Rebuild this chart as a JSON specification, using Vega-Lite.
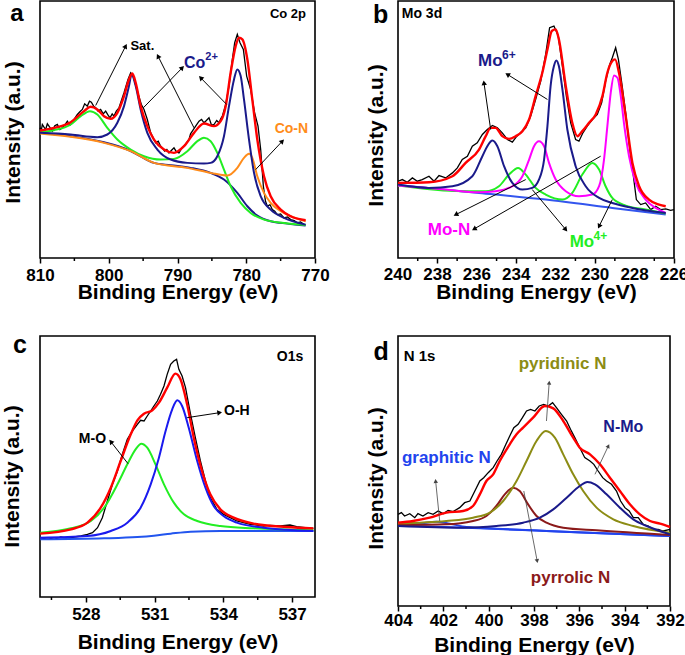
{
"$schema":"https://vega.github.io/schema/vega-lite/v6.json",
"padding":{"left":0,"top":0,"right":2,"bottom":0},
"config":{"font":"Liberation Sans","view":{"stroke":"black","strokeWidth":1.6},
"axisX":{"grid":false,"domain":false,"tickColor":"black","tickWidth":1.5,"tickSize":5,"labelFontSize":17,"labelFontWeight":"bold","labelColor":"black","labelPadding":4,"titleFontSize":21,"titleFontWeight":"bold","titleColor":"black","titlePadding":1,"labelFlush":false,"labelOverlap":false,"labelBound":false},
"axisY":{"grid":false,"domain":false,"ticks":false,"labels":false,"titleFontSize":21,"titleFontWeight":"bold","titleColor":"black"}},
"datasets":{
"A":[
{"s":"e","x":810.00,"y":390},{"s":"e","x":809.83,"y":380},{"s":"e","x":809.66,"y":400},{"s":"e","x":809.42,"y":392},{"s":"e","x":809.18,"y":385},{"s":"e","x":808.93,"y":402},{"s":"e","x":808.69,"y":395},{"s":"e","x":808.45,"y":388},{"s":"e","x":808.21,"y":380},{"s":"e","x":807.85,"y":396},{"s":"e","x":807.48,"y":400},{"s":"e","x":807.10,"y":385},{"s":"e","x":806.75,"y":390},{"s":"e","x":806.40,"y":398},{"s":"e","x":806.02,"y":410},{"s":"e","x":805.66,"y":398},{"s":"e","x":805.30,"y":405},{"s":"e","x":804.90,"y":420},{"s":"e","x":804.57,"y":430},{"s":"e","x":804.20,"y":438},{"s":"e","x":803.84,"y":445},{"s":"e","x":803.50,"y":462},{"s":"e","x":803.12,"y":455},{"s":"e","x":802.80,"y":470},{"s":"e","x":802.53,"y":467},{"s":"e","x":802.20,"y":455},{"s":"e","x":801.90,"y":450},{"s":"e","x":801.55,"y":440},{"s":"e","x":801.18,"y":445},{"s":"e","x":800.80,"y":432},{"s":"e","x":800.45,"y":440},{"s":"e","x":800.10,"y":428},{"s":"e","x":799.82,"y":420},{"s":"e","x":799.50,"y":432},{"s":"e","x":799.24,"y":425},{"s":"e","x":798.90,"y":440},{"s":"e","x":798.51,"y":450},{"s":"e","x":797.78,"y":495},{"s":"e","x":797.20,"y":535},{"s":"e","x":796.81,"y":555},{"s":"e","x":796.42,"y":543},{"s":"e","x":795.84,"y":500},{"s":"e","x":795.26,"y":460},{"s":"e","x":794.87,"y":445},{"s":"e","x":794.39,"y":415},{"s":"e","x":793.90,"y":375},{"s":"e","x":793.55,"y":360},{"s":"e","x":793.18,"y":345},{"s":"e","x":792.80,"y":350},{"s":"e","x":792.45,"y":335},{"s":"e","x":792.15,"y":328},{"s":"e","x":791.87,"y":320},{"s":"e","x":791.55,"y":325},{"s":"e","x":791.24,"y":315},{"s":"e","x":790.90,"y":322},{"s":"e","x":790.51,"y":330},{"s":"e","x":790.15,"y":318},{"s":"e","x":789.78,"y":315},{"s":"e","x":789.40,"y":328},{"s":"e","x":789.05,"y":335},{"s":"e","x":788.70,"y":345},{"s":"e","x":788.33,"y":355},{"s":"e","x":788.10,"y":372},{"s":"e","x":787.84,"y":380},{"s":"e","x":787.36,"y":395},{"s":"e","x":786.87,"y":410},{"s":"e","x":786.50,"y":415},{"s":"e","x":786.15,"y":405},{"s":"e","x":785.80,"y":412},{"s":"e","x":785.42,"y":420},{"s":"e","x":785.05,"y":398},{"s":"e","x":784.69,"y":400},{"s":"e","x":784.30,"y":412},{"s":"e","x":783.96,"y":405},{"s":"e","x":783.70,"y":418},{"s":"e","x":783.48,"y":425},{"s":"e","x":782.99,"y":460},{"s":"e","x":782.51,"y":515},{"s":"e","x":782.02,"y":595},{"s":"e","x":781.68,"y":645},{"s":"e","x":781.30,"y":670},{"s":"e","x":780.91,"y":645},{"s":"e","x":780.42,"y":625},{"s":"e","x":779.94,"y":545},{"s":"e","x":779.36,"y":505},{"s":"e","x":778.78,"y":435},{"s":"e","x":778.29,"y":395},{"s":"e","x":777.90,"y":325},{"s":"e","x":777.51,"y":215},{"s":"e","x":777.20,"y":170},{"s":"e","x":776.93,"y":155},{"s":"e","x":776.55,"y":160},{"s":"e","x":776.21,"y":145},{"s":"e","x":775.85,"y":140},{"s":"e","x":775.48,"y":130},{"s":"e","x":775.00,"y":132},{"s":"e","x":774.51,"y":120},{"s":"e","x":774.00,"y":123},{"s":"e","x":773.54,"y":115},{"s":"e","x":773.00,"y":112},{"s":"e","x":772.57,"y":105},{"s":"e","x":772.10,"y":108},{"s":"e","x":771.60,"y":100},
{"s":"r","x":810.00,"y":382},{"s":"r","x":807.96,"y":390},{"s":"r","x":805.54,"y":407},{"s":"r","x":803.60,"y":440},{"s":"r","x":802.63,"y":453},{"s":"r","x":801.66,"y":445},{"s":"r","x":800.69,"y":425},{"s":"r","x":799.72,"y":417},{"s":"r","x":798.75,"y":435},{"s":"r","x":797.78,"y":485},{"s":"r","x":797.06,"y":535},{"s":"r","x":796.57,"y":553},{"s":"r","x":796.08,"y":525},{"s":"r","x":795.36,"y":455},{"s":"r","x":794.39,"y":395},{"s":"r","x":793.42,"y":355},{"s":"r","x":791.96,"y":325},{"s":"r","x":790.51,"y":315},{"s":"r","x":789.05,"y":335},{"s":"r","x":787.60,"y":375},{"s":"r","x":786.15,"y":403},{"s":"r","x":784.69,"y":395},{"s":"r","x":783.72,"y":410},{"s":"r","x":782.99,"y":455},{"s":"r","x":782.27,"y":555},{"s":"r","x":781.54,"y":635},{"s":"r","x":781.05,"y":660},{"s":"r","x":780.57,"y":655},{"s":"r","x":779.84,"y":595},{"s":"r","x":779.12,"y":475},{"s":"r","x":778.39,"y":355},{"s":"r","x":777.42,"y":245},{"s":"r","x":776.45,"y":185},{"s":"r","x":774.99,"y":145},{"s":"r","x":773.54,"y":125},{"s":"r","x":771.36,"y":113},
{"s":"g","x":810.00,"y":377},{"s":"g","x":807.96,"y":383},{"s":"g","x":805.54,"y":400},{"s":"g","x":804.08,"y":425},{"s":"g","x":802.73,"y":440},{"s":"g","x":801.66,"y":430},{"s":"g","x":800.21,"y":390},{"s":"g","x":798.75,"y":355},{"s":"g","x":796.81,"y":325},{"s":"g","x":794.87,"y":305},{"s":"g","x":792.45,"y":295},{"s":"g","x":790.51,"y":297},{"s":"g","x":788.57,"y":320},{"s":"g","x":787.11,"y":350},{"s":"g","x":786.15,"y":360},{"s":"g","x":785.18,"y":350},{"s":"g","x":784.21,"y":315},{"s":"g","x":783.24,"y":265},{"s":"g","x":782.27,"y":215},{"s":"g","x":780.81,"y":165},{"s":"g","x":779.36,"y":135},{"s":"g","x":777.42,"y":115},{"s":"g","x":774.51,"y":105},{"s":"g","x":771.36,"y":99},
{"s":"n","x":810.00,"y":375},{"s":"n","x":805.54,"y":370},{"s":"n","x":801.66,"y":362},{"s":"n","x":800.21,"y":370},{"s":"n","x":798.75,"y":405},{"s":"n","x":797.78,"y":455},{"s":"n","x":797.06,"y":515},{"s":"n","x":796.67,"y":550},{"s":"n","x":796.08,"y":515},{"s":"n","x":795.36,"y":445},{"s":"n","x":794.39,"y":375},{"s":"n","x":792.93,"y":325},{"s":"n","x":790.99,"y":295},{"s":"n","x":788.57,"y":285},{"s":"n","x":786.15,"y":283},{"s":"n","x":785.18,"y":285},{"s":"n","x":784.21,"y":305},{"s":"n","x":783.24,"y":365},{"s":"n","x":782.51,"y":455},{"s":"n","x":781.78,"y":535},{"s":"n","x":781.30,"y":565},{"s":"n","x":780.81,"y":545},{"s":"n","x":780.33,"y":475},{"s":"n","x":779.60,"y":355},{"s":"n","x":778.87,"y":255},{"s":"n","x":777.90,"y":185},{"s":"n","x":776.45,"y":145},{"s":"n","x":774.51,"y":120},{"s":"n","x":771.36,"y":100},
{"s":"o","x":810.00,"y":373},{"s":"o","x":805.54,"y":363},{"s":"o","x":800.69,"y":345},{"s":"o","x":796.81,"y":320},{"s":"o","x":793.42,"y":285},{"s":"o","x":788.57,"y":270},{"s":"o","x":785.18,"y":255},{"s":"o","x":782.75,"y":247},{"s":"o","x":781.30,"y":270},{"s":"o","x":780.33,"y":300},{"s":"o","x":779.60,"y":312},{"s":"o","x":779.12,"y":300},{"s":"o","x":778.39,"y":245},{"s":"o","x":777.42,"y":195},{"s":"o","x":776.45,"y":165},{"s":"o","x":774.51,"y":135},{"s":"o","x":771.36,"y":110},
{"s":"b","x":810.00,"y":375},{"s":"b","x":805.54,"y":365},{"s":"b","x":800.69,"y":347},{"s":"b","x":797.30,"y":325},{"s":"b","x":795.84,"y":310},{"s":"b","x":793.42,"y":285},{"s":"b","x":790.99,"y":278},{"s":"b","x":788.08,"y":270},{"s":"b","x":785.18,"y":255},{"s":"b","x":783.24,"y":235},{"s":"b","x":781.30,"y":195},{"s":"b","x":779.84,"y":155},{"s":"b","x":778.39,"y":127},{"s":"b","x":776.45,"y":110},{"s":"b","x":774.02,"y":103},{"s":"b","x":771.36,"y":97}
],
"B":[
{"s":"e","x":240.00,"y":230},{"s":"e","x":239.78,"y":235},{"s":"e","x":239.53,"y":227},{"s":"e","x":239.27,"y":240},{"s":"e","x":239.02,"y":230},{"s":"e","x":238.77,"y":235},{"s":"e","x":238.43,"y":245},{"s":"e","x":238.17,"y":230},{"s":"e","x":237.92,"y":247},{"s":"e","x":237.58,"y":240},{"s":"e","x":237.24,"y":255},{"s":"e","x":236.99,"y":270},{"s":"e","x":236.74,"y":295},{"s":"e","x":236.48,"y":305},{"s":"e","x":236.23,"y":335},{"s":"e","x":235.98,"y":345},{"s":"e","x":235.72,"y":370},{"s":"e","x":235.47,"y":385},{"s":"e","x":235.21,"y":397},{"s":"e","x":234.96,"y":390},{"s":"e","x":234.71,"y":375},{"s":"e","x":234.45,"y":355},{"s":"e","x":234.20,"y":347},{"s":"e","x":234.00,"y":363},{"s":"e","x":233.78,"y":375},{"s":"e","x":233.52,"y":390},{"s":"e","x":233.27,"y":425},{"s":"e","x":233.02,"y":475},{"s":"e","x":232.76,"y":530},{"s":"e","x":232.51,"y":610},{"s":"e","x":232.31,"y":690},{"s":"e","x":232.09,"y":695},{"s":"e","x":231.87,"y":665},{"s":"e","x":231.66,"y":575},{"s":"e","x":231.46,"y":485},{"s":"e","x":231.24,"y":405},{"s":"e","x":230.99,"y":355},{"s":"e","x":230.82,"y":350},{"s":"e","x":230.62,"y":375},{"s":"e","x":230.40,"y":395},{"s":"e","x":230.14,"y":415},{"s":"e","x":229.89,"y":430},{"s":"e","x":229.67,"y":465},{"s":"e","x":229.47,"y":530},{"s":"e","x":229.26,"y":580},{"s":"e","x":229.13,"y":600},{"s":"e","x":228.96,"y":630},{"s":"e","x":228.82,"y":595},{"s":"e","x":228.65,"y":525},{"s":"e","x":228.45,"y":435},{"s":"e","x":228.28,"y":345},{"s":"e","x":228.08,"y":255},{"s":"e","x":227.91,"y":175},{"s":"e","x":227.69,"y":160},{"s":"e","x":227.44,"y":165},{"s":"e","x":227.18,"y":145},{"s":"e","x":226.93,"y":155},{"s":"e","x":226.68,"y":145},{"s":"e","x":226.42,"y":147},{"s":"e","x":226.17,"y":143},{"s":"e","x":226.00,"y":145},
{"s":"r","x":240.00,"y":225},{"s":"r","x":238.43,"y":227},{"s":"r","x":237.24,"y":245},{"s":"r","x":236.57,"y":285},{"s":"r","x":235.89,"y":325},{"s":"r","x":235.55,"y":365},{"s":"r","x":235.30,"y":390},{"s":"r","x":235.05,"y":390},{"s":"r","x":234.71,"y":365},{"s":"r","x":234.37,"y":357},{"s":"r","x":234.03,"y":365},{"s":"r","x":233.69,"y":380},{"s":"r","x":233.35,"y":415},{"s":"r","x":233.02,"y":485},{"s":"r","x":232.68,"y":555},{"s":"r","x":232.42,"y":625},{"s":"r","x":232.20,"y":680},{"s":"r","x":232.00,"y":685},{"s":"r","x":231.84,"y":655},{"s":"r","x":231.49,"y":515},{"s":"r","x":231.16,"y":405},{"s":"r","x":230.90,"y":365},{"s":"r","x":230.65,"y":380},{"s":"r","x":230.31,"y":405},{"s":"r","x":229.97,"y":430},{"s":"r","x":229.63,"y":485},{"s":"r","x":229.38,"y":555},{"s":"r","x":229.13,"y":590},{"s":"r","x":228.99,"y":595},{"s":"r","x":228.79,"y":555},{"s":"r","x":228.45,"y":425},{"s":"r","x":228.11,"y":285},{"s":"r","x":227.77,"y":215},{"s":"r","x":227.27,"y":175},{"s":"r","x":226.76,"y":160},{"s":"r","x":226.42,"y":155},
{"s":"n","x":240.00,"y":220},{"s":"n","x":238.43,"y":210},{"s":"n","x":237.24,"y":215},{"s":"n","x":236.23,"y":245},{"s":"n","x":235.72,"y":305},{"s":"n","x":235.47,"y":335},{"s":"n","x":235.21,"y":352},{"s":"n","x":234.96,"y":335},{"s":"n","x":234.62,"y":275},{"s":"n","x":234.20,"y":225},{"s":"n","x":233.69,"y":205},{"s":"n","x":233.19,"y":210},{"s":"n","x":232.85,"y":235},{"s":"n","x":232.59,"y":295},{"s":"n","x":232.42,"y":395},{"s":"n","x":232.26,"y":515},{"s":"n","x":232.09,"y":575},{"s":"n","x":231.97,"y":592},{"s":"n","x":231.84,"y":575},{"s":"n","x":231.66,"y":505},{"s":"n","x":231.41,"y":385},{"s":"n","x":230.99,"y":275},{"s":"n","x":230.48,"y":215},{"s":"n","x":229.80,"y":180},{"s":"n","x":229.13,"y":165},{"s":"n","x":228.11,"y":150},{"s":"n","x":226.42,"y":135},
{"s":"m","x":240.00,"y":217},{"s":"m","x":237.58,"y":205},{"s":"m","x":235.89,"y":197},{"s":"m","x":235.05,"y":200},{"s":"m","x":234.20,"y":215},{"s":"m","x":233.69,"y":245},{"s":"m","x":233.35,"y":295},{"s":"m","x":233.10,"y":335},{"s":"m","x":232.85,"y":350},{"s":"m","x":232.59,"y":335},{"s":"m","x":232.34,"y":285},{"s":"m","x":232.00,"y":235},{"s":"m","x":231.49,"y":200},{"s":"m","x":230.82,"y":185},{"s":"m","x":230.14,"y":190},{"s":"m","x":229.80,"y":215},{"s":"m","x":229.55,"y":295},{"s":"m","x":229.38,"y":395},{"s":"m","x":229.21,"y":495},{"s":"m","x":229.04,"y":547},{"s":"m","x":228.87,"y":540},{"s":"m","x":228.70,"y":485},{"s":"m","x":228.54,"y":405},{"s":"m","x":228.28,"y":305},{"s":"m","x":227.94,"y":225},{"s":"m","x":227.44,"y":175},{"s":"m","x":226.93,"y":150},{"s":"m","x":226.42,"y":135},
{"s":"g","x":240.00,"y":217},{"s":"g","x":236.74,"y":200},{"s":"g","x":235.55,"y":200},{"s":"g","x":234.88,"y":215},{"s":"g","x":234.37,"y":250},{"s":"g","x":233.91,"y":270},{"s":"g","x":233.52,"y":250},{"s":"g","x":233.02,"y":210},{"s":"g","x":232.51,"y":190},{"s":"g","x":231.66,"y":175},{"s":"g","x":231.16,"y":195},{"s":"g","x":230.65,"y":250},{"s":"g","x":230.14,"y":285},{"s":"g","x":229.80,"y":265},{"s":"g","x":229.47,"y":215},{"s":"g","x":229.13,"y":180},{"s":"g","x":228.45,"y":157},{"s":"g","x":227.44,"y":145},{"s":"g","x":226.42,"y":133},
{"s":"b","x":240.00,"y":218},{"s":"b","x":235.89,"y":195},{"s":"b","x":232.51,"y":175},{"s":"b","x":229.13,"y":150},{"s":"b","x":226.42,"y":130}
],
"C":[
{"s":"e","x":526.01,"y":173},{"s":"e","x":526.33,"y":178},{"s":"e","x":526.62,"y":173},{"s":"e","x":526.91,"y":180},{"s":"e","x":527.20,"y":176},{"s":"e","x":527.49,"y":180},{"s":"e","x":527.78,"y":183},{"s":"e","x":528.07,"y":188},{"s":"e","x":528.29,"y":193},{"s":"e","x":528.51,"y":208},{"s":"e","x":528.72,"y":238},{"s":"e","x":528.94,"y":288},{"s":"e","x":529.16,"y":338},{"s":"e","x":529.38,"y":378},{"s":"e","x":529.59,"y":428},{"s":"e","x":529.81,"y":473},{"s":"e","x":530.03,"y":498},{"s":"e","x":530.25,"y":518},{"s":"e","x":530.39,"y":530},{"s":"e","x":530.54,"y":528},{"s":"e","x":530.68,"y":543},{"s":"e","x":530.83,"y":558},{"s":"e","x":530.97,"y":573},{"s":"e","x":531.12,"y":588},{"s":"e","x":531.26,"y":608},{"s":"e","x":531.41,"y":633},{"s":"e","x":531.55,"y":668},{"s":"e","x":531.70,"y":698},{"s":"e","x":531.84,"y":708},{"s":"e","x":531.96,"y":713},{"s":"e","x":532.06,"y":683},{"s":"e","x":532.20,"y":663},{"s":"e","x":532.35,"y":628},{"s":"e","x":532.57,"y":548},{"s":"e","x":532.78,"y":478},{"s":"e","x":533.00,"y":408},{"s":"e","x":533.22,"y":348},{"s":"e","x":533.43,"y":298},{"s":"e","x":533.72,"y":263},{"s":"e","x":534.01,"y":248},{"s":"e","x":534.30,"y":238},{"s":"e","x":534.59,"y":228},{"s":"e","x":534.88,"y":223},{"s":"e","x":535.17,"y":218},{"s":"e","x":535.46,"y":216},{"s":"e","x":535.75,"y":213},{"s":"e","x":536.04,"y":215},{"s":"e","x":536.48,"y":213},{"s":"e","x":536.91,"y":216},{"s":"e","x":537.20,"y":211},{"s":"e","x":537.57,"y":208},{"s":"e","x":537.93,"y":206},
{"s":"r","x":526.01,"y":190},{"s":"r","x":527.35,"y":203},{"s":"r","x":528.07,"y":223},{"s":"r","x":528.65,"y":268},{"s":"r","x":529.09,"y":328},{"s":"r","x":529.52,"y":408},{"s":"r","x":529.96,"y":488},{"s":"r","x":530.25,"y":530},{"s":"r","x":530.54,"y":550},{"s":"r","x":530.90,"y":560},{"s":"r","x":531.19,"y":583},{"s":"r","x":531.55,"y":628},{"s":"r","x":531.91,"y":670},{"s":"r","x":532.13,"y":653},{"s":"r","x":532.42,"y":578},{"s":"r","x":532.71,"y":478},{"s":"r","x":533.07,"y":378},{"s":"r","x":533.43,"y":308},{"s":"r","x":533.87,"y":263},{"s":"r","x":534.45,"y":238},{"s":"r","x":535.32,"y":220},{"s":"r","x":536.77,"y":210},{"s":"r","x":537.93,"y":206},
{"s":"g","x":526.01,"y":193},{"s":"g","x":527.35,"y":206},{"s":"g","x":528.22,"y":228},{"s":"g","x":528.80,"y":268},{"s":"g","x":529.38,"y":338},{"s":"g","x":529.81,"y":398},{"s":"g","x":530.17,"y":443},{"s":"g","x":530.42,"y":460},{"s":"g","x":530.68,"y":448},{"s":"g","x":531.04,"y":398},{"s":"g","x":531.41,"y":338},{"s":"g","x":531.84,"y":283},{"s":"g","x":532.28,"y":248},{"s":"g","x":532.86,"y":228},{"s":"g","x":533.87,"y":213},{"s":"g","x":535.32,"y":206},{"s":"g","x":537.93,"y":200},
{"s":"u","x":526.01,"y":178},{"s":"u","x":528.07,"y":183},{"s":"u","x":529.09,"y":198},{"s":"u","x":529.81,"y":223},{"s":"u","x":530.39,"y":268},{"s":"u","x":530.83,"y":338},{"s":"u","x":531.19,"y":418},{"s":"u","x":531.48,"y":498},{"s":"u","x":531.77,"y":563},{"s":"u","x":531.99,"y":590},{"s":"u","x":532.20,"y":573},{"s":"u","x":532.49,"y":508},{"s":"u","x":532.86,"y":408},{"s":"u","x":533.22,"y":328},{"s":"u","x":533.58,"y":273},{"s":"u","x":534.01,"y":243},{"s":"u","x":534.59,"y":223},{"s":"u","x":535.75,"y":208},{"s":"u","x":537.93,"y":198},
{"s":"b","x":526.01,"y":173},{"s":"b","x":528.80,"y":176},{"s":"b","x":530.25,"y":180},{"s":"b","x":530.97,"y":184},{"s":"b","x":531.70,"y":190},{"s":"b","x":532.57,"y":196},{"s":"b","x":533.87,"y":198},{"s":"b","x":536.04,"y":198},{"s":"b","x":537.93,"y":198}
],
"D":[
{"s":"e","x":404.00,"y":275},{"s":"e","x":403.85,"y":280},{"s":"e","x":403.71,"y":270},{"s":"e","x":403.48,"y":277},{"s":"e","x":403.26,"y":265},{"s":"e","x":403.12,"y":277},{"s":"e","x":402.90,"y":270},{"s":"e","x":402.67,"y":280},{"s":"e","x":402.45,"y":275},{"s":"e","x":402.23,"y":285},{"s":"e","x":402.01,"y":277},{"s":"e","x":401.79,"y":287},{"s":"e","x":401.57,"y":283},{"s":"e","x":401.28,"y":295},{"s":"e","x":401.06,"y":310},{"s":"e","x":400.83,"y":315},{"s":"e","x":400.61,"y":345},{"s":"e","x":400.39,"y":375},{"s":"e","x":400.22,"y":385},{"s":"e","x":400.02,"y":400},{"s":"e","x":399.80,"y":415},{"s":"e","x":399.63,"y":435},{"s":"e","x":399.44,"y":455},{"s":"e","x":399.24,"y":485},{"s":"e","x":399.07,"y":510},{"s":"e","x":398.89,"y":535},{"s":"e","x":398.70,"y":545},{"s":"e","x":398.51,"y":565},{"s":"e","x":398.33,"y":585},{"s":"e","x":398.15,"y":590},{"s":"e","x":397.96,"y":585},{"s":"e","x":397.77,"y":600},{"s":"e","x":397.57,"y":605},{"s":"e","x":397.37,"y":600},{"s":"e","x":397.18,"y":610},{"s":"e","x":397.01,"y":595},{"s":"e","x":396.79,"y":575},{"s":"e","x":396.56,"y":555},{"s":"e","x":396.39,"y":530},{"s":"e","x":396.20,"y":505},{"s":"e","x":395.98,"y":475},{"s":"e","x":395.76,"y":445},{"s":"e","x":395.53,"y":435},{"s":"e","x":395.36,"y":425},{"s":"e","x":395.17,"y":405},{"s":"e","x":394.97,"y":385},{"s":"e","x":394.80,"y":375},{"s":"e","x":394.58,"y":365},{"s":"e","x":394.36,"y":345},{"s":"e","x":394.18,"y":315},{"s":"e","x":393.99,"y":295},{"s":"e","x":393.80,"y":285},{"s":"e","x":393.62,"y":265},{"s":"e","x":393.40,"y":265},{"s":"e","x":393.18,"y":245},{"s":"e","x":392.96,"y":240},{"s":"e","x":392.74,"y":230},{"s":"e","x":392.52,"y":230},{"s":"e","x":392.30,"y":225},{"s":"e","x":392.00,"y":230},
{"s":"r","x":404.00,"y":250},{"s":"r","x":403.34,"y":255},{"s":"r","x":402.60,"y":265},{"s":"r","x":401.87,"y":280},{"s":"r","x":401.13,"y":285},{"s":"r","x":400.69,"y":300},{"s":"r","x":400.39,"y":335},{"s":"r","x":400.10,"y":375},{"s":"r","x":399.80,"y":395},{"s":"r","x":399.51,"y":435},{"s":"r","x":399.07,"y":485},{"s":"r","x":398.77,"y":515},{"s":"r","x":398.48,"y":535},{"s":"r","x":398.04,"y":565},{"s":"r","x":397.52,"y":600},{"s":"r","x":397.15,"y":593},{"s":"r","x":396.71,"y":555},{"s":"r","x":396.27,"y":505},{"s":"r","x":395.98,"y":475},{"s":"r","x":395.53,"y":455},{"s":"r","x":395.09,"y":425},{"s":"r","x":394.65,"y":385},{"s":"r","x":394.21,"y":345},{"s":"r","x":393.77,"y":305},{"s":"r","x":393.33,"y":275},{"s":"r","x":392.88,"y":255},{"s":"r","x":392.44,"y":247},{"s":"r","x":392.00,"y":237},
{"s":"o","x":404.00,"y":248},{"s":"o","x":401.87,"y":255},{"s":"o","x":400.69,"y":265},{"s":"o","x":399.95,"y":280},{"s":"o","x":399.36,"y":315},{"s":"o","x":398.77,"y":375},{"s":"o","x":398.33,"y":435},{"s":"o","x":397.89,"y":495},{"s":"o","x":397.48,"y":525},{"s":"o","x":397.08,"y":505},{"s":"o","x":396.71,"y":455},{"s":"o","x":396.27,"y":395},{"s":"o","x":395.83,"y":345},{"s":"o","x":395.24,"y":295},{"s":"o","x":394.50,"y":260},{"s":"o","x":393.62,"y":240},{"s":"o","x":392.00,"y":220},
{"s":"k","x":404.00,"y":243},{"s":"k","x":401.87,"y":245},{"s":"k","x":400.69,"y":255},{"s":"k","x":400.10,"y":270},{"s":"k","x":399.66,"y":300},{"s":"k","x":399.29,"y":335},{"s":"k","x":398.92,"y":355},{"s":"k","x":398.63,"y":345},{"s":"k","x":398.26,"y":305},{"s":"k","x":397.89,"y":270},{"s":"k","x":397.45,"y":250},{"s":"k","x":396.71,"y":235},{"s":"k","x":395.24,"y":227},{"s":"k","x":392.00,"y":213},
{"s":"n","x":404.00,"y":240},{"s":"n","x":401.13,"y":235},{"s":"n","x":399.66,"y":240},{"s":"n","x":398.48,"y":250},{"s":"n","x":397.74,"y":265},{"s":"n","x":397.15,"y":290},{"s":"n","x":396.56,"y":325},{"s":"n","x":395.98,"y":360},{"s":"n","x":395.65,"y":372},{"s":"n","x":395.31,"y":365},{"s":"n","x":394.80,"y":335},{"s":"n","x":394.21,"y":295},{"s":"n","x":393.62,"y":260},{"s":"n","x":393.03,"y":240},{"s":"n","x":392.00,"y":215},
{"s":"u","x":404.00,"y":243},{"s":"u","x":403.04,"y":247},{"s":"u","x":402.31,"y":253},{"s":"u","x":401.72,"y":247},{"s":"u","x":400.98,"y":237},{"s":"u","x":399.66,"y":232},{"s":"u","x":397.45,"y":225},{"s":"u","x":392.00,"y":210},
{"s":"b","x":404.00,"y":242},{"s":"b","x":400.39,"y":233},{"s":"b","x":397.45,"y":225},{"s":"b","x":394.50,"y":217},{"s":"b","x":392.00,"y":210}
]},
"spacing":28,"bounds":"full",
"vconcat":[
{"hconcat":[
{"width":275,"height":257,"data":{"name":"A"},"layer":[
{"transform":[{"filter":"datum.s==='e'"}],"mark":{"type":"line","color":"#000000","strokeWidth":1.3},"encoding":{"x":{"field":"x","type":"quantitative","scale":{"domain":[770,810],"reverse":true,"nice":false,"zero":false},"axis":{"title":"Binding Energy (eV)","titlePadding":-2,"labelOverlap":false,"values":[770,780,790,800,810],"format":"d"}},"y":{"field":"y","type":"quantitative","scale":{"domain":[0,770],"nice":false,"zero":false},"axis":{"title":"Intensity (a.u.)","titlePadding":17,"titleY":131}}}},
{"data":{"values":[{"m":775},{"m":785},{"m":795},{"m":805}]},"mark":{"type":"rule","color":"#000000","strokeWidth":1.5,"clip":false},"encoding":{"x":{"field":"m","type":"quantitative"},"y":{"datum":0},"y2":{"datum":-9}}},
{"transform":[{"filter":"datum.s==='b'"}],"mark":{"type":"line","color":"#1a1a8a","strokeWidth":2,"interpolate":"monotone"},"encoding":{"x":{"field":"x","type":"quantitative"},"y":{"field":"y","type":"quantitative"}}},
{"transform":[{"filter":"datum.s==='g'"}],"mark":{"type":"line","color":"#22ee22","strokeWidth":2,"interpolate":"monotone"},"encoding":{"x":{"field":"x","type":"quantitative"},"y":{"field":"y","type":"quantitative"}}},
{"transform":[{"filter":"datum.s==='o'"}],"mark":{"type":"line","color":"#ff8c1a","strokeWidth":2,"interpolate":"monotone"},"encoding":{"x":{"field":"x","type":"quantitative"},"y":{"field":"y","type":"quantitative"}}},
{"transform":[{"filter":"datum.s==='n'"}],"mark":{"type":"line","color":"#1a1a8a","strokeWidth":2,"interpolate":"monotone"},"encoding":{"x":{"field":"x","type":"quantitative"},"y":{"field":"y","type":"quantitative"}}},
{"transform":[{"filter":"datum.s==='r'"}],"mark":{"type":"line","color":"#ff0000","strokeWidth":2.4,"interpolate":"monotone"},"encoding":{"x":{"field":"x","type":"quantitative"},"y":{"field":"y","type":"quantitative"}}},
{"data":{"values":[{"x1":801.90,"y1":457,"x2":797.54,"y2":635,"ang":26.8},{"x1":787.60,"y1":390,"x2":792.84,"y2":605,"ang":333.3},{"x1":794.97,"y1":450,"x2":789.30,"y2":570,"ang":44.3},{"x1":782.85,"y1":460,"x2":786.63,"y2":540,"ang":315.7},{"x1":778.63,"y1":265,"x2":774.75,"y2":350,"ang":43.3}]},"layer":[
{"mark":{"type":"rule","color":"#000000","strokeWidth":1},"encoding":{"x":{"field":"x1","type":"quantitative"},"y":{"field":"y1","type":"quantitative"},"x2":{"field":"x2"},"y2":{"field":"y2"}}},
{"mark":{"type":"point","shape":"triangle-up","filled":true,"color":"#000000","size":30,"opacity":1},"encoding":{"x":{"field":"x2","type":"quantitative"},"y":{"field":"y2","type":"quantitative"},"angle":{"field":"ang","type":"quantitative","scale":null}}}]},
{"data":{"values":[{"t":"Sat.","x":795.11,"y":635},{"t":"Co 2p","x":773.93,"y":730}]},"mark":{"type":"text","fontSize":13,"fontWeight":"bold","color":"#000000"},"encoding":{"x":{"field":"x","type":"quantitative"},"y":{"field":"y","type":"quantitative"},"text":{"field":"t"}}},
{"data":{"values":[{"t":"Co","x":787.50,"y":583}]},"mark":{"type":"text","fontSize":16,"fontWeight":"bold","color":"#1a1a8a"},"encoding":{"x":{"field":"x","type":"quantitative"},"y":{"field":"y","type":"quantitative"},"text":{"field":"t"}}},
{"data":{"values":[{"t":"2+","x":785.95,"y":603}]},"mark":{"type":"text","fontSize":11,"fontWeight":"bold","color":"#1a1a8a","align":"left"},"encoding":{"x":{"field":"x","type":"quantitative"},"y":{"field":"y","type":"quantitative"},"text":{"field":"t"}}},
{"data":{"values":[{"t":"Co-N","x":773.44,"y":387}]},"mark":{"type":"text","fontSize":14,"fontWeight":"bold","color":"#ff8c1a"},"encoding":{"x":{"field":"x","type":"quantitative"},"y":{"field":"y","type":"quantitative"},"text":{"field":"t"}}},
{"data":{"values":[{"t":"a","x":813.35,"y":732}]},"mark":{"type":"text","fontSize":24,"fontWeight":"bold","color":"#000000"},"encoding":{"x":{"field":"x","type":"quantitative"},"y":{"field":"y","type":"quantitative"},"text":{"field":"t"}}}
]},
{"width":276,"height":257,"data":{"name":"B"},"layer":[
{"transform":[{"filter":"datum.s==='e'"}],"mark":{"type":"line","color":"#000000","strokeWidth":1.3},"encoding":{"x":{"field":"x","type":"quantitative","scale":{"domain":[226,240],"reverse":true,"nice":false,"zero":false},"axis":{"title":"Binding Energy (eV)","titlePadding":18,"labels":false,"values":[226,228,230,232,234,236,238,240]}},"y":{"field":"y","type":"quantitative","scale":{"domain":[0,770],"nice":false,"zero":false},"axis":{"title":"Intensity (a.u.)","titlePadding":12,"titleY":134}}}},
{"data":{"values":[{"m":227},{"m":229},{"m":231},{"m":233},{"m":235},{"m":237},{"m":239}]},"mark":{"type":"rule","color":"#000000","strokeWidth":1.5,"clip":false},"encoding":{"x":{"field":"m","type":"quantitative"},"y":{"datum":0},"y2":{"datum":-9}}},
{"data":{"values":[{"t":"226","x":226},{"t":"228","x":228},{"t":"230","x":230},{"t":"232","x":232},{"t":"234","x":234},{"t":"236","x":236},{"t":"238","x":238},{"t":"240","x":240}]},"mark":{"type":"text","fontSize":17,"fontWeight":"bold","color":"#000000","baseline":"middle","clip":false},"encoding":{"x":{"field":"x","type":"quantitative"},"y":{"datum":-51},"text":{"field":"t"}}},
{"transform":[{"filter":"datum.s==='b'"}],"mark":{"type":"line","color":"#3355ee","strokeWidth":2,"interpolate":"monotone"},"encoding":{"x":{"field":"x","type":"quantitative"},"y":{"field":"y","type":"quantitative"}}},
{"transform":[{"filter":"datum.s==='g'"}],"mark":{"type":"line","color":"#22ee22","strokeWidth":2,"interpolate":"monotone"},"encoding":{"x":{"field":"x","type":"quantitative"},"y":{"field":"y","type":"quantitative"}}},
{"transform":[{"filter":"datum.s==='m'"}],"mark":{"type":"line","color":"#ff00ff","strokeWidth":2,"interpolate":"monotone"},"encoding":{"x":{"field":"x","type":"quantitative"},"y":{"field":"y","type":"quantitative"}}},
{"transform":[{"filter":"datum.s==='n'"}],"mark":{"type":"line","color":"#1a1a8a","strokeWidth":2,"interpolate":"monotone"},"encoding":{"x":{"field":"x","type":"quantitative"},"y":{"field":"y","type":"quantitative"}}},
{"transform":[{"filter":"datum.s==='r'"}],"mark":{"type":"line","color":"#ff0000","strokeWidth":2.4,"interpolate":"monotone"},"encoding":{"x":{"field":"x","type":"quantitative"},"y":{"field":"y","type":"quantitative"}}},
{"data":{"values":[{"x1":235.30,"y1":385,"x2":235.64,"y2":525,"ang":351.9},{"x1":232.42,"y1":475,"x2":234.45,"y2":550,"ang":302},{"x1":233.52,"y1":235,"x2":237.07,"y2":130,"ang":243.4},{"x1":229.72,"y1":305,"x2":236.14,"y2":87,"ang":240.2},{"x1":233.19,"y1":205,"x2":231.49,"y2":85,"ang":140.2},{"x1":229.13,"y1":175,"x2":229.80,"y2":95,"ang":206.6}]},"layer":[
{"mark":{"type":"rule","color":"#000000","strokeWidth":1},"encoding":{"x":{"field":"x1","type":"quantitative"},"y":{"field":"y1","type":"quantitative"},"x2":{"field":"x2"},"y2":{"field":"y2"}}},
{"mark":{"type":"point","shape":"triangle-up","filled":true,"color":"#000000","size":30,"opacity":1},"encoding":{"x":{"field":"x2","type":"quantitative"},"y":{"field":"y2","type":"quantitative"},"angle":{"field":"ang","type":"quantitative","scale":null}}}]},
{"data":{"values":[{"t":"Mo 3d","x":239.81,"y":730}]},"mark":{"type":"text","fontSize":14,"fontWeight":"bold","color":"#000000","align":"left"},"encoding":{"x":{"field":"x","type":"quantitative"},"y":{"field":"y","type":"quantitative"},"text":{"field":"t"}}},
{"data":{"values":[{"t":"Mo","x":235.32,"y":589}]},"mark":{"type":"text","fontSize":17,"fontWeight":"bold","color":"#1a1a8a"},"encoding":{"x":{"field":"x","type":"quantitative"},"y":{"field":"y","type":"quantitative"},"text":{"field":"t"}}},
{"data":{"values":[{"t":"6+","x":234.72,"y":607}]},"mark":{"type":"text","fontSize":12,"fontWeight":"bold","color":"#1a1a8a","align":"left"},"encoding":{"x":{"field":"x","type":"quantitative"},"y":{"field":"y","type":"quantitative"},"text":{"field":"t"}}},
{"data":{"values":[{"t":"Mo-N","x":237.41,"y":85}]},"mark":{"type":"text","fontSize":17,"fontWeight":"bold","color":"#ff00ff"},"encoding":{"x":{"field":"x","type":"quantitative"},"y":{"field":"y","type":"quantitative"},"text":{"field":"t"}}},
{"data":{"values":[{"t":"Mo","x":230.67,"y":49}]},"mark":{"type":"text","fontSize":17,"fontWeight":"bold","color":"#22ee22"},"encoding":{"x":{"field":"x","type":"quantitative"},"y":{"field":"y","type":"quantitative"},"text":{"field":"t"}}},
{"data":{"values":[{"t":"4+","x":230.08,"y":65}]},"mark":{"type":"text","fontSize":12,"fontWeight":"bold","color":"#22ee22","align":"left"},"encoding":{"x":{"field":"x","type":"quantitative"},"y":{"field":"y","type":"quantitative"},"text":{"field":"t"}}},
{"data":{"values":[{"t":"b","x":240.88,"y":727}]},"mark":{"type":"text","fontSize":25,"fontWeight":"bold","color":"#000000"},"encoding":{"x":{"field":"x","type":"quantitative"},"y":{"field":"y","type":"quantitative"},"text":{"field":"t"}}}
]}
],"spacing":83,"bounds":"flush"},
{"hconcat":[
{"width":275,"height":261,"data":{"name":"C"},"layer":[
{"transform":[{"filter":"datum.s==='e'"}],"mark":{"type":"line","color":"#000000","strokeWidth":1.3},"encoding":{"x":{"field":"x","type":"quantitative","scale":{"domain":[526,538],"nice":false,"zero":false},"axis":{"title":"Binding Energy (eV)","titlePadding":9,"labelOverlap":false,"values":[528,531,534,537],"format":"d"}},"y":{"field":"y","type":"quantitative","scale":{"domain":[0,783],"nice":false,"zero":false},"axis":{"title":"Intensity (a.u.)","titlePadding":18,"titleY":140}}}},
{"data":{"values":[{"m":526.5},{"m":529.5},{"m":532.5},{"m":535.5}]},"mark":{"type":"rule","color":"#000000","strokeWidth":1.5,"clip":false},"encoding":{"x":{"field":"m","type":"quantitative"},"y":{"datum":0},"y2":{"datum":-9}}},
{"transform":[{"filter":"datum.s==='b'"}],"mark":{"type":"line","color":"#2255ee","strokeWidth":2,"interpolate":"monotone"},"encoding":{"x":{"field":"x","type":"quantitative"},"y":{"field":"y","type":"quantitative"}}},
{"transform":[{"filter":"datum.s==='g'"}],"mark":{"type":"line","color":"#22ee22","strokeWidth":2,"interpolate":"monotone"},"encoding":{"x":{"field":"x","type":"quantitative"},"y":{"field":"y","type":"quantitative"}}},
{"transform":[{"filter":"datum.s==='u'"}],"mark":{"type":"line","color":"#1a1aee","strokeWidth":2,"interpolate":"monotone"},"encoding":{"x":{"field":"x","type":"quantitative"},"y":{"field":"y","type":"quantitative"}}},
{"transform":[{"filter":"datum.s==='r'"}],"mark":{"type":"line","color":"#ff0000","strokeWidth":2.4,"interpolate":"monotone"},"encoding":{"x":{"field":"x","type":"quantitative"},"y":{"field":"y","type":"quantitative"}}},
{"data":{"values":[{"x1":532.42,"y1":538,"x2":533.84,"y2":553,"ang":81.3},{"x1":529.84,"y1":400,"x2":529.09,"y2":466,"ang":321.8}]},"layer":[
{"mark":{"type":"rule","color":"#000000","strokeWidth":1},"encoding":{"x":{"field":"x1","type":"quantitative"},"y":{"field":"y1","type":"quantitative"},"x2":{"field":"x2"},"y2":{"field":"y2"}}},
{"mark":{"type":"point","shape":"triangle-up","filled":true,"color":"#000000","size":30,"opacity":1},"encoding":{"x":{"field":"x2","type":"quantitative"},"y":{"field":"y2","type":"quantitative"},"angle":{"field":"ang","type":"quantitative","scale":null}}}]},
{"data":{"values":[{"t":"O1s","x":536.91,"y":720},{"t":"O-H","x":534.59,"y":558},{"t":"M-O","x":528.29,"y":473}]},"mark":{"type":"text","fontSize":14,"fontWeight":"bold","color":"#000000"},"encoding":{"x":{"field":"x","type":"quantitative"},"y":{"field":"y","type":"quantitative"},"text":{"field":"t"}}},
{"data":{"values":[{"t":"c","x":525.13,"y":756}]},"mark":{"type":"text","fontSize":25,"fontWeight":"bold","color":"#000000"},"encoding":{"x":{"field":"x","type":"quantitative"},"y":{"field":"y","type":"quantitative"},"text":{"field":"t"}}}
]},
{"width":272,"height":270,"data":{"name":"D"},"layer":[
{"transform":[{"filter":"datum.s==='e'"}],"mark":{"type":"line","color":"#000000","strokeWidth":1.3},"encoding":{"x":{"field":"x","type":"quantitative","scale":{"domain":[392,404],"reverse":true,"nice":false,"zero":false},"axis":{"title":"Binding Energy (eV)","titlePadding":6,"labelPadding":1,"labelOverlap":false,"values":[392,394,396,398,400,402,404],"format":"d"}},"y":{"field":"y","type":"quantitative","scale":{"domain":[0,810],"nice":false,"zero":false},"axis":{"title":"Intensity (a.u.)","titlePadding":12,"titleY":142}}}},
{"data":{"values":[{"m":393},{"m":395},{"m":397},{"m":399},{"m":401},{"m":403}]},"mark":{"type":"rule","color":"#000000","strokeWidth":1.5,"clip":false},"encoding":{"x":{"field":"m","type":"quantitative"},"y":{"datum":0},"y2":{"datum":-9}}},
{"transform":[{"filter":"datum.s==='b'"}],"mark":{"type":"line","color":"#2244ee","strokeWidth":2,"interpolate":"monotone"},"encoding":{"x":{"field":"x","type":"quantitative"},"y":{"field":"y","type":"quantitative"}}},
{"transform":[{"filter":"datum.s==='u'"}],"mark":{"type":"line","color":"#2244ee","strokeWidth":2,"interpolate":"monotone"},"encoding":{"x":{"field":"x","type":"quantitative"},"y":{"field":"y","type":"quantitative"}}},
{"transform":[{"filter":"datum.s==='k'"}],"mark":{"type":"line","color":"#8b1a1a","strokeWidth":2,"interpolate":"monotone"},"encoding":{"x":{"field":"x","type":"quantitative"},"y":{"field":"y","type":"quantitative"}}},
{"transform":[{"filter":"datum.s==='o'"}],"mark":{"type":"line","color":"#8c8c14","strokeWidth":2,"interpolate":"monotone"},"encoding":{"x":{"field":"x","type":"quantitative"},"y":{"field":"y","type":"quantitative"}}},
{"transform":[{"filter":"datum.s==='n'"}],"mark":{"type":"line","color":"#1a1a8a","strokeWidth":2,"interpolate":"monotone"},"encoding":{"x":{"field":"x","type":"quantitative"},"y":{"field":"y","type":"quantitative"}}},
{"transform":[{"filter":"datum.s==='r'"}],"mark":{"type":"line","color":"#ff0000","strokeWidth":2.4,"interpolate":"monotone"},"encoding":{"x":{"field":"x","type":"quantitative"},"y":{"field":"y","type":"quantitative"}}},
{"data":{"values":[{"x1":397.45,"y1":555,"x2":397.33,"y2":670,"ang":4},{"x1":395.31,"y1":395,"x2":394.72,"y2":480,"ang":25.2},{"x1":402.16,"y1":255,"x2":402.34,"y2":375,"ang":354.3},{"x1":398.45,"y1":345,"x2":397.86,"y2":135,"ang":169.2}]},"layer":[
{"mark":{"type":"rule","color":"#444444","strokeWidth":0.8},"encoding":{"x":{"field":"x1","type":"quantitative"},"y":{"field":"y1","type":"quantitative"},"x2":{"field":"x2"},"y2":{"field":"y2"}}},
{"mark":{"type":"point","shape":"triangle-up","filled":true,"color":"#444444","size":20,"opacity":1},"encoding":{"x":{"field":"x2","type":"quantitative"},"y":{"field":"y2","type":"quantitative"},"angle":{"field":"ang","type":"quantitative","scale":null}}}]},
{"data":{"values":[{"t":"N 1s","x":403.75,"y":750}]},"mark":{"type":"text","fontSize":15,"fontWeight":"bold","color":"#000000","align":"left"},"encoding":{"x":{"field":"x","type":"quantitative"},"y":{"field":"y","type":"quantitative"},"text":{"field":"t"}}},
{"data":{"values":[{"t":"pyridinic N","x":396.74,"y":725}]},"mark":{"type":"text","fontSize":17,"fontWeight":"bold","color":"#8c8c14"},"encoding":{"x":{"field":"x","type":"quantitative"},"y":{"field":"y","type":"quantitative"},"text":{"field":"t"}}},
{"data":{"values":[{"t":"N-Mo","x":394.06,"y":537}]},"mark":{"type":"text","fontSize":16,"fontWeight":"bold","color":"#1a1a8a"},"encoding":{"x":{"field":"x","type":"quantitative"},"y":{"field":"y","type":"quantitative"},"text":{"field":"t"}}},
{"data":{"values":[{"t":"graphitic N","x":401.87,"y":445}]},"mark":{"type":"text","fontSize":17,"fontWeight":"bold","color":"#2244ee"},"encoding":{"x":{"field":"x","type":"quantitative"},"y":{"field":"y","type":"quantitative"},"text":{"field":"t"}}},
{"data":{"values":[{"t":"pyrrolic N","x":396.39,"y":83}]},"mark":{"type":"text","fontSize":17,"fontWeight":"bold","color":"#8b1a1a"},"encoding":{"x":{"field":"x","type":"quantitative"},"y":{"field":"y","type":"quantitative"},"text":{"field":"t"}}},
{"data":{"values":[{"t":"d","x":404.74,"y":762}]},"mark":{"type":"text","fontSize":25,"fontWeight":"bold","color":"#000000"},"encoding":{"x":{"field":"x","type":"quantitative"},"y":{"field":"y","type":"quantitative"},"text":{"field":"t"}}}
]}
],"spacing":83,"bounds":"flush"}
]
}
